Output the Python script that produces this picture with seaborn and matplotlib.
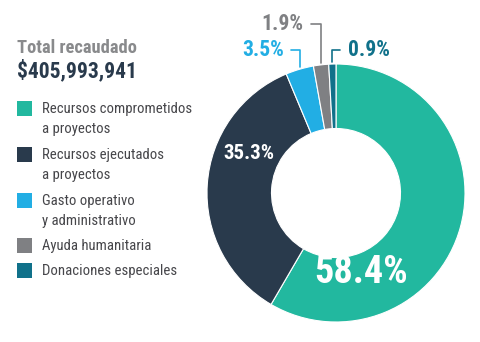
import matplotlib
matplotlib.use("Agg")
import matplotlib.pyplot as plt
import seaborn as sns
import numpy as np
from matplotlib.patches import Rectangle

categories = ["Recursos comprometidos\na proyectos",
              "Recursos ejecutados\na proyectos",
              "Gasto operativo\ny administrativo",
              "Ayuda humanitaria",
              "Donaciones especiales"]
values = [58.4, 35.3, 3.5, 1.9, 0.9]
labels = ["58.4%", "35.3%", "3.5%", "1.9%", "0.9%"]
colors = ["#22b89f", "#293a4c", "#22aee4", "#7f8083", "#10718a"]
title = "Total recaudado"
total = "$405,993,941"

sns.set_theme(style="white")
FONT = ["Roboto Condensed", "Archivo Narrow", "DejaVu Sans"]
plt.rcParams["font.family"] = FONT

W, H = 481, 342
fig = plt.figure(figsize=(W / 100, H / 100), dpi=100)
palette = sns.color_palette(colors)

# donut
cx, cy, R = 336, 193, 129
ax = fig.add_axes([(cx - R) / W, (H - cy - R) / H, 2 * R / W, 2 * R / H])
wedges, _ = ax.pie(values, colors=palette, startangle=90, counterclock=False,
                   radius=1.0, wedgeprops=dict(width=0.5, edgecolor="white", linewidth=0.8))
ax.set_xlim(-1, 1)
ax.set_ylim(-1, 1)
ax.set_aspect("equal")
ax.axis("off")

def mid(w):
    return np.deg2rad((w.theta1 + w.theta2) / 2)

# inside labels
inside = {0: ((0.194, -0.62), 27.5), 1: ((-0.674, 0.306), 15)}
for i, ((x, y), fs) in inside.items():
    ax.text(x, y, labels[i], color="white", fontsize=fs, fontweight="bold",
            ha="center", va="center", family=FONT)

# outside labels with leader lines
txtpos = {2: (-0.405, 1.11, "right"), 3: (-0.25, 1.31, "right"), 4: (0.09, 1.105, "left")}
for i, (tx, ty, ha) in txtpos.items():
    a = mid(wedges[i])
    px, py = np.cos(a) * 1.0, np.sin(a) * 1.0 + 0.015
    ax.annotate(labels[i], xy=(px, py), xytext=(tx, ty), ha=ha, va="center",
                fontsize=15.5, fontweight="bold", color=palette[i], family=FONT,
                annotation_clip=False,
                arrowprops=dict(arrowstyle="-", color=palette[i], lw=1.2,
                                shrinkA=3, shrinkB=0,
                                connectionstyle="angle,angleA=0,angleB=90,rad=0"))

# title
fig.text(17 / W, 1 - 53 / H, title, color="#898a8c", fontsize=13.3, fontweight="bold",
         ha="left", va="baseline", family=FONT)
fig.text(17 / W, 1 - 77.5 / H, total, color="#293a4c", fontsize=15.5, fontweight="bold",
         ha="left", va="baseline", family=FONT)

# legend
centers = [108, 154, 200, 245, 270]
for c, lab, col in zip(centers, categories, palette):
    fig.patches.append(Rectangle((17 / W, 1 - (c + 7.5) / H), 15 / W, 15 / H,
                                 transform=fig.transFigure, facecolor=col,
                                 edgecolor="none", figure=fig))
    for k, line in enumerate(lab.split("\n")):
        fig.text(42 / W, 1 - (c + 5 + 20 * k) / H, line, color="#46464a",
                 fontsize=10.6, ha="left", va="baseline", family=FONT)

fig.savefig("out.png", dpi=100, facecolor="white")
